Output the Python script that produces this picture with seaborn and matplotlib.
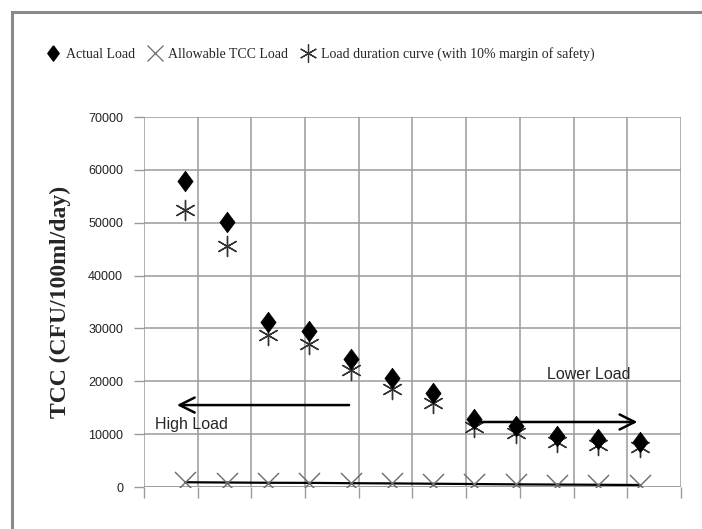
import numpy as np
import pandas as pd
import matplotlib
matplotlib.use("Agg")
import matplotlib.pyplot as plt
import seaborn as sns
from matplotlib.lines import Line2D
from matplotlib.patches import Rectangle

# ---- data ----
flow_pct = [7.7, 15.4, 23.1, 30.8, 38.5, 46.2, 53.8, 61.5, 69.2, 76.9, 84.6, 92.3]
actual_load = [57800, 50100, 31300, 29600, 24200, 20600, 17800, 12800, 11500, 9600, 9000, 8500]
allowable_load = [900, 850, 800, 780, 720, 680, 620, 560, 500, 460, 420, 380]
ldc_mos = [52400, 45600, 28700, 27000, 22100, 18600, 15800, 11400, 10300, 8600, 8000, 7500]
y_ticks = [0, 10000, 20000, 30000, 40000, 50000, 60000, 70000]
legend_labels = ["Actual Load", "Allowable TCC Load",
                 "Load duration curve (with 10% margin of safety)"]
ylabel = "TCC (CFU/100ml/day)"

df = pd.DataFrame({"x": flow_pct, "actual": actual_load,
                   "allow": allowable_load, "ldc": ldc_mos})

sns.set_theme(style="white")
plt.rcParams['font.family'] = ['Liberation Serif', 'DejaVu Sans']

fig = plt.figure(figsize=(7.02, 5.29), dpi=100)
ax = fig.add_axes([144/702, 1-487/529, (681-144)/702, (487-117)/529])

ASTER = (6, 2, 0)
DIAM = [(0, 1), (0.74, 0), (0, -1), (-0.74, 0), (0, 1)]
grey_x = "#6a6a6a"

sns.lineplot(data=df, x="x", y="allow", ax=ax, color="black", lw=1.6, zorder=2)
sns.scatterplot(data=df, x="x", y="allow", ax=ax, marker="x", s=230,
                color=grey_x, linewidth=1.0, zorder=3)
sns.scatterplot(data=df, x="x", y="ldc", ax=ax, marker=ASTER, s=210,
                color="#333333", linewidth=1.0, zorder=3)
sns.scatterplot(data=df, x="x", y="actual", ax=ax, marker=DIAM, s=220,
                color="black", edgecolor="black", linewidth=0.5, zorder=4)

ax.set_xlim(0, 100)
ax.set_ylim(0, 70000)
ax.set_xticks(np.arange(0, 101, 10))
ax.set_xticklabels([])
ax.set_yticks(y_ticks)
ax.set_yticklabels([str(v) for v in y_ticks], family="Liberation Sans", fontsize=9,
                   color="#222222")
ax.grid(True, color="#9a9a9a", lw=1.1)
ax.set_axisbelow(True)
for s in ax.spines.values():
    s.set_visible(False)
ax.tick_params(axis="x", direction="out", length=8, width=1, color="#9a9a9a",
               bottom=True, pad=2)
ax.tick_params(axis="y", direction="out", length=7, width=1, color="#9a9a9a",
               left=True, pad=8)
ax.axhline(0, color="#9a9a9a", lw=1.1, zorder=1)
ax.set_xlabel("")
ax.set_ylabel(ylabel, fontsize=17, fontweight="bold", family="Liberation Serif",
              labelpad=12)

# arrows and annotations
ax.annotate("", xy=(5.6, 15500), xytext=(38.7, 15500),
            arrowprops=dict(arrowstyle="->,head_length=0.9,head_width=0.45",
                            lw=1.8, color="black"))
ax.text(2.0, 11900, "High Load", fontsize=11.5, family="Liberation Sans",
        va="center", ha="left")
ax.annotate("", xy=(92.4, 12300), xytext=(61.5, 12300),
            arrowprops=dict(arrowstyle="->,head_length=0.9,head_width=0.45",
                            lw=1.8, color="black"))
ax.text(75.0, 21200, "Lower Load", fontsize=11.5, family="Liberation Sans",
        va="center", ha="left")

# legend
handles = [
    Line2D([], [], ls="", marker=DIAM, color="black", markersize=11),
    Line2D([], [], ls="", marker="x", color=grey_x, markersize=12, mew=0.9),
    Line2D([], [], ls="", marker=ASTER, color="#333333", markersize=13, mew=0.9),
]
fig.legend(handles, legend_labels, loc="center left", bbox_to_anchor=(0.058, 0.898),
           ncol=3, frameon=False, fontsize=10, handlelength=1.0,
           handletextpad=0.45, columnspacing=0.9, borderaxespad=0)

# outer frame
fig.add_artist(Rectangle((12/702, -0.05), 1.2, 1 - 12/529 + 0.05,
                         transform=fig.transFigure, fill=False,
                         edgecolor="#8a8a8a", lw=2.2))

fig.savefig("out.png", dpi=100)
